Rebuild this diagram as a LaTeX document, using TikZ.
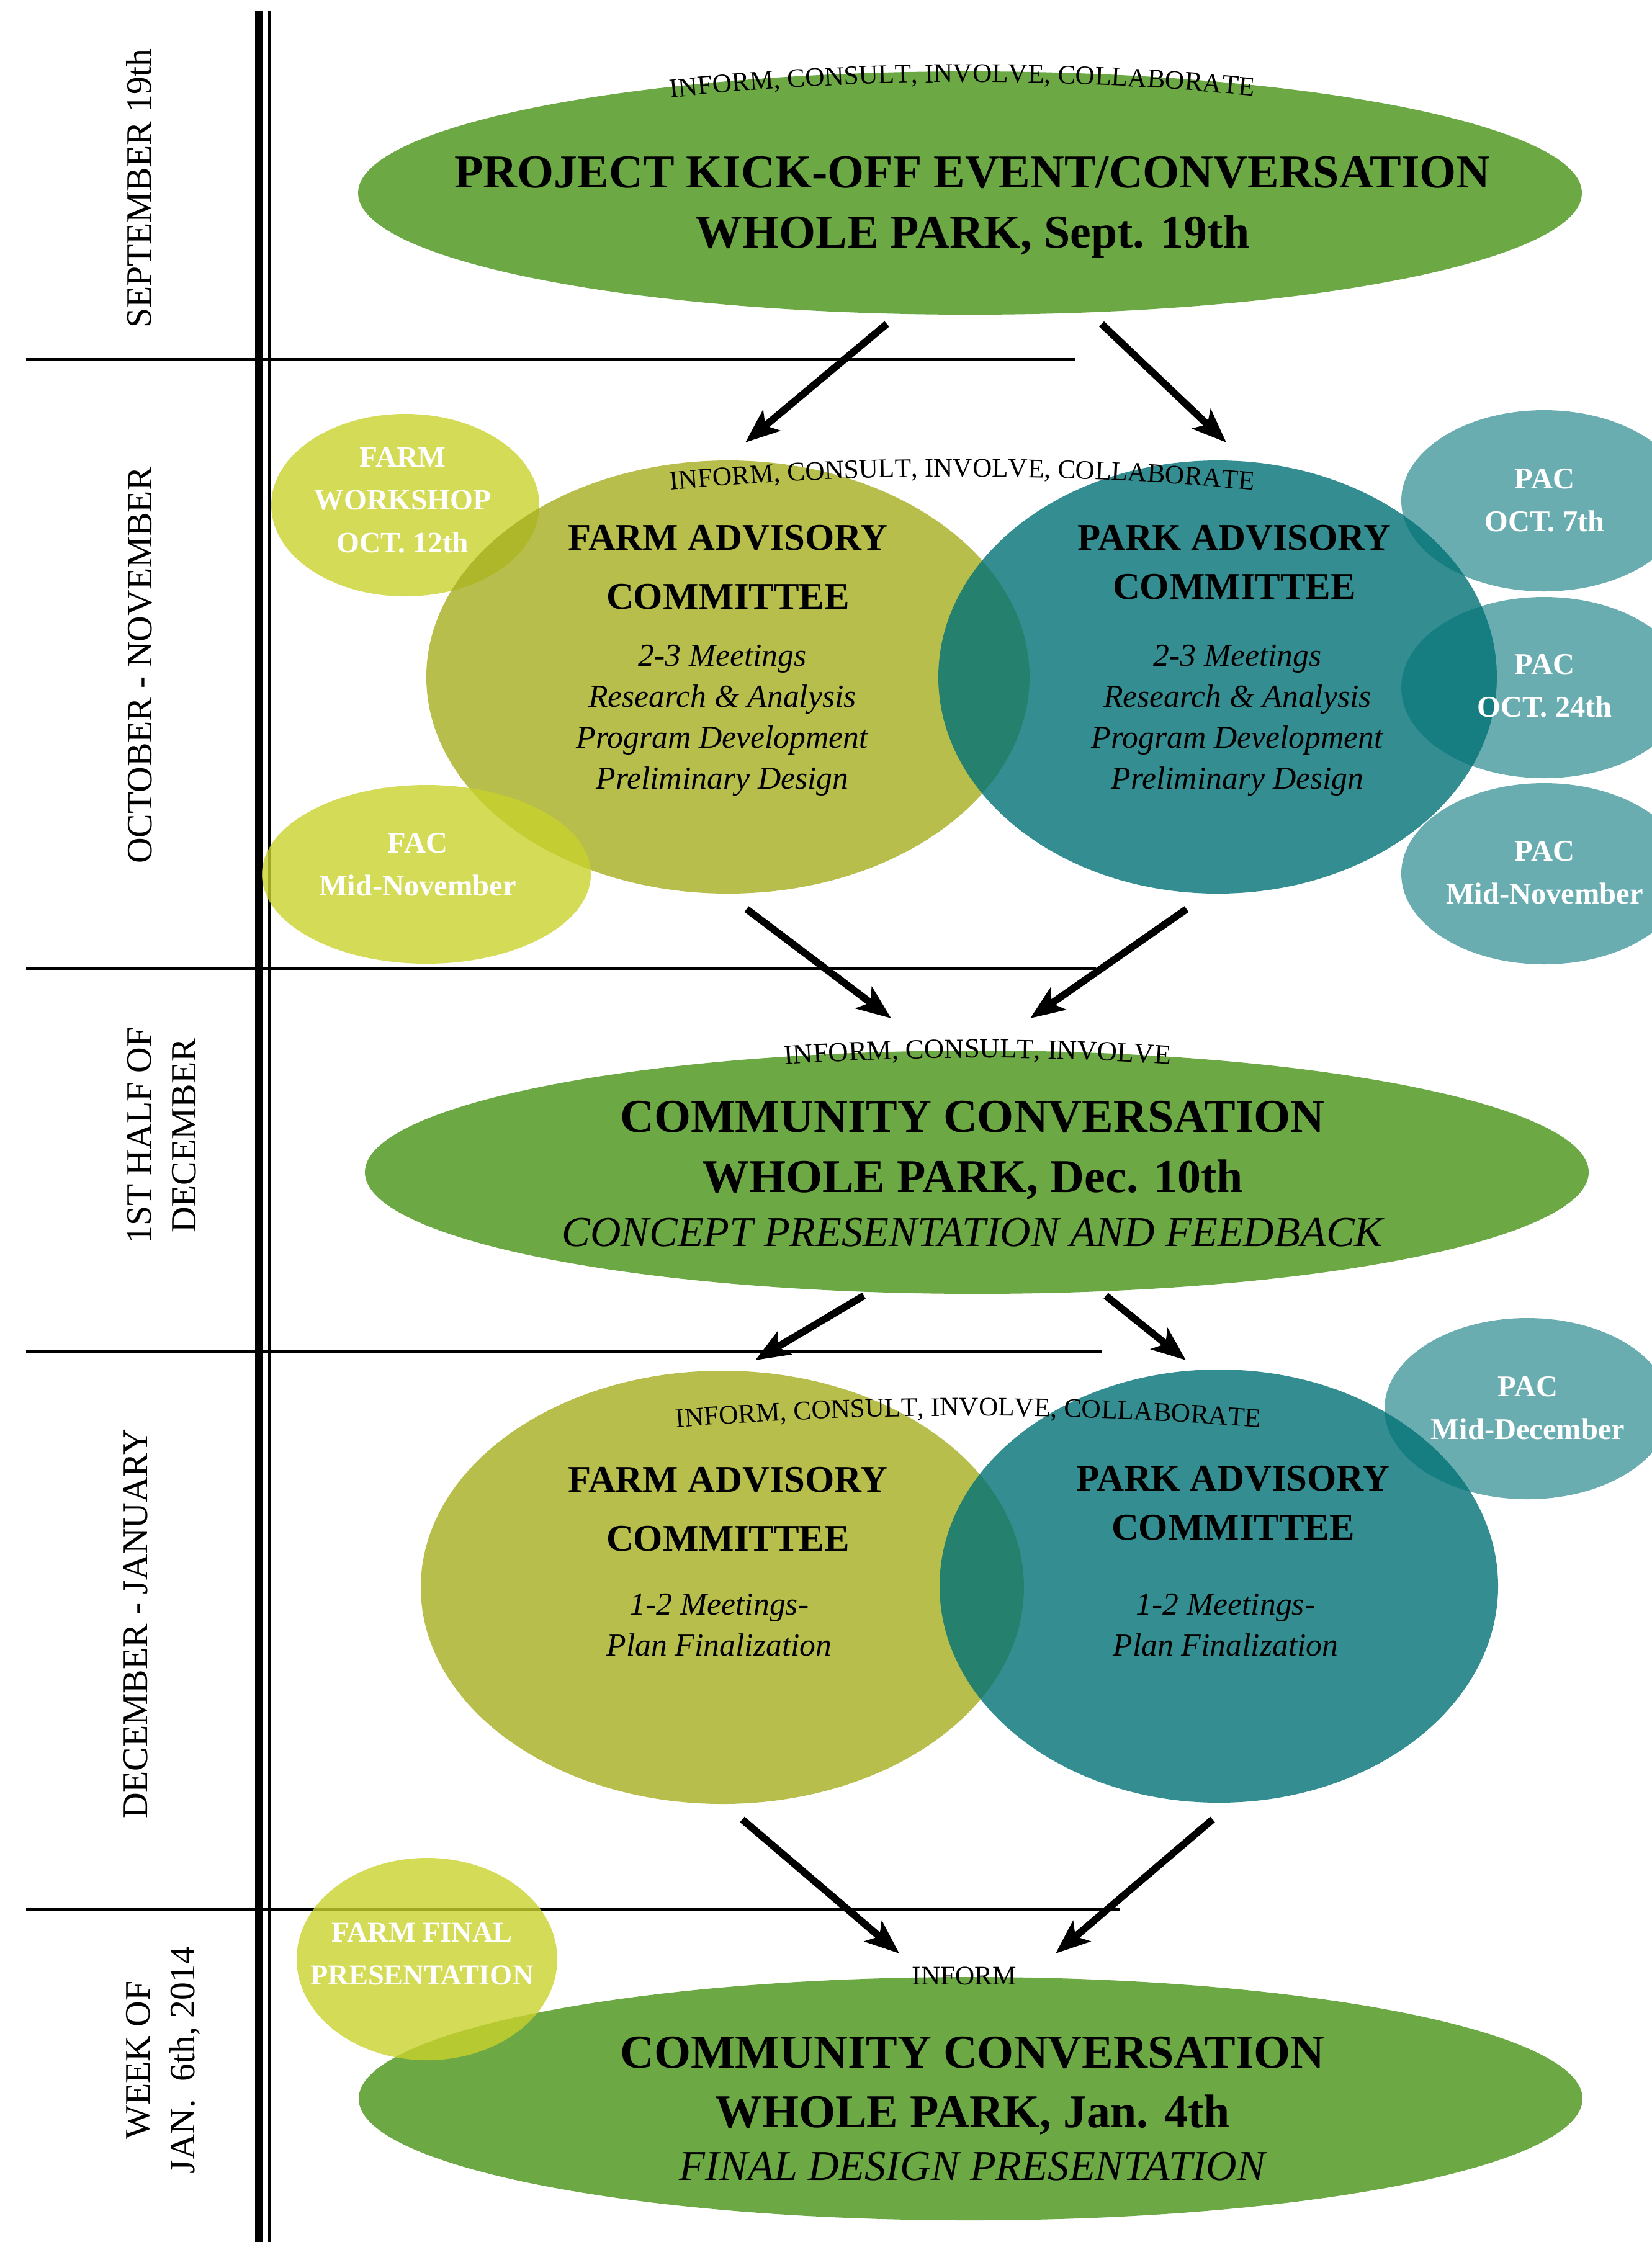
\documentclass[tikz,border=0pt]{standalone}
\usepackage{fontspec}
\setmainfont{Liberation Serif}
\usetikzlibrary{shapes.geometric, arrows.meta, decorations.text}

\definecolor{eventgreen}{RGB}{108,169,69}
\definecolor{farmolive}{RGB}{165,174,31}
\definecolor{parkteal}{RGB}{1,114,118}
\definecolor{limefill}{RGB}{201,210,44}
\definecolor{pacfill}{RGB}{69,153,158}

\tikzset{
  blob/.style={ellipse, draw=none, inner sep=0pt, fill opacity=0.8},
  eventblob/.style={blob, fill=eventgreen, fill opacity=1, minimum width=19.72cm, minimum height=3.92cm},
  farmblob/.style={blob, fill=farmolive, minimum width=9.72cm, minimum height=6.98cm},
  parkblob/.style={blob, fill=parkteal, minimum width=9cm, minimum height=6.98cm},
  limeblob/.style={blob, fill=limefill},
  pacblob/.style={blob, fill=pacfill, minimum width=4.6cm, minimum height=2.92cm},
  rule/.style={line width=0.05cm},
  flow/.style={line width=3.3pt, -{Stealth[length=5.5mm, width=4.3mm, inset=1.3mm]}},
  eventtxt/.style={align=center, inner sep=0pt, font=\fontsize{21.6}{27.5}\selectfont\bfseries},
  comtxt/.style={align=center, inner sep=0pt, font=\fontsize{17.3}{27}\selectfont\bfseries},
  meettxt/.style={align=center, inner sep=0pt, font=\fontsize{14.7}{18.8}\selectfont\itshape},
  datetxt/.style={align=center, inner sep=0pt, text=white, font=\fontsize{13.8}{19.6}\selectfont\bfseries},
  monthlbl/.style={rotate=90, align=center, inner sep=0pt, font=\fontsize{16.4}{20.5}\selectfont},
  arctxt/.style={decorate, decoration={text along path, text align=center, text={#1}}}
}

\begin{document}
\begin{tikzpicture}
\useasboundingbox (0,0) rectangle (26.62,-36.13);
\clip (0,0) rectangle (26.62,-36.13);

\draw[rule] (0.42,-5.79) -- (17.33,-5.79);
\draw[rule] (0.42,-15.60) -- (17.66,-15.60);
\draw[rule] (0.42,-21.78) -- (17.75,-21.78);
\draw[rule] (0.42,-30.76) -- (18.05,-30.76);
\draw[line width=0.12cm] (4.17,-0.18) -- (4.17,-36.13);
\draw[line width=0.04cm] (4.34,-0.18) -- (4.34,-36.13);

\node[monthlbl] (sep) at (2.24,-3.04) {SEPTEMBER 19th};
\node[monthlbl] (octnov) at (2.26,-10.72) {OCTOBER - NOVEMBER};
\node[monthlbl] (dechalf) at (2.61,-18.30) {1ST HALF OF\\DECEMBER};
\node[monthlbl] (decjan) at (2.19,-26.17) {DECEMBER - JANUARY};
\node[monthlbl] (janweek) at (2.63,-33.20) {WEEK OF\\JAN.\ \ 6th, 2014};

\node[eventblob] (kickoff) at (15.63,-3.11) {};
\node[eventblob] (convA) at (15.74,-18.89) {};
\node[eventblob] (convB) at (15.64,-33.82) {};

\node[limeblob, minimum width=4.32cm, minimum height=2.94cm] (workshop) at (6.53,-8.14) {};
\node[farmblob] (farmA) at (11.73,-10.91) {};
\node[limeblob, minimum width=5.30cm, minimum height=2.88cm] (facA) at (6.87,-14.09) {};
\node[pacblob] (pacA) at (24.88,-8.07) {};
\node[pacblob] (pacB) at (24.88,-11.08) {};
\node[pacblob] (pacC) at (24.88,-14.08) {};
\node[parkblob] (parkA) at (19.62,-10.91) {};

\node[farmblob] (farmB) at (11.64,-25.58) {};
\node[pacblob] (pacD) at (24.61,-22.70) {};
\node[parkblob] (parkB) at (19.64,-25.56) {};
\node[limeblob, minimum width=4.20cm, minimum height=3.26cm] (final) at (6.88,-31.57) {};

\node[eventtxt] (kickofftxt) at (15.67,-3.34) {PROJECT KICK-OFF EVENT/CONVERSATION\\WHOLE PARK, Sept. 19th};
\node[eventtxt] (convAtxt) at (15.67,-18.92) {COMMUNITY CONVERSATION\\WHOLE PARK, Dec. 10th\\[-2.6pt]{\fontsize{19.5}{25}\selectfont\mdseries\itshape CONCEPT PRESENTATION AND FEEDBACK}};
\node[eventtxt] (convBtxt) at (15.67,-33.98) {COMMUNITY CONVERSATION\\WHOLE PARK, Jan. 4th\\[-3.5pt]{\fontsize{19.5}{25}\selectfont\mdseries\itshape FINAL DESIGN PRESENTATION}};

\node[comtxt] (farmAtitle) at (11.73,-9.14) {FARM ADVISORY\\COMMITTEE};
\node[comtxt, font=\fontsize{17.3}{22.3}\selectfont\bfseries] (parkAtitle) at (19.89,-9.06) {PARK ADVISORY\\COMMITTEE};
\node[meettxt] (farmAmeet) at (11.64,-11.61) {2-3 Meetings\\Research \& Analysis\\Program Development\\Preliminary Design};
\node[meettxt] (parkAmeet) at (19.94,-11.61) {2-3 Meetings\\Research \& Analysis\\Program Development\\Preliminary Design};
\node[comtxt] (farmBtitle) at (11.73,-24.32) {FARM ADVISORY\\COMMITTEE};
\node[comtxt, font=\fontsize{17.3}{22.3}\selectfont\bfseries] (parkBtitle) at (19.87,-24.22) {PARK ADVISORY\\COMMITTEE};
\node[meettxt] (farmBmeet) at (11.59,-26.19) {1-2 Meetings-\\Plan Finalization};
\node[meettxt] (parkBmeet) at (19.75,-26.19) {1-2 Meetings-\\Plan Finalization};

\node[datetxt, font=\fontsize{13.5}{19.6}\selectfont\bfseries] (workshoptxt) at (6.49,-8.06) {FARM\\WORKSHOP\\OCT. 12th};
\node[datetxt] (factxt) at (6.73,-13.93) {FAC\\Mid-November};
\node[datetxt] (pacAtxt) at (24.89,-8.06) {PAC\\OCT. 7th};
\node[datetxt] (pacBtxt) at (24.89,-11.05) {PAC\\OCT. 24th};
\node[datetxt] (pacCtxt) at (24.89,-14.06) {PAC\\Mid-November};
\node[datetxt] (pacDtxt) at (24.62,-22.69) {PAC\\Mid-December};
\node[datetxt, font=\fontsize{13.2}{19.6}\selectfont\bfseries] (finaltxt) at (6.80,-31.49) {FARM FINAL\\PRESENTATION};

\path[arctxt={|\fontsize{12.3}{15}\selectfont|INFORM, CONSULT, INVOLVE, COLLABORATE}] (10.35,-1.63) arc[start angle=122.4, end angle=59.4, x radius=9.86cm, y radius=1.96cm];
\path[arctxt={|\fontsize{12.3}{15}\selectfont|INFORM, CONSULT, INVOLVE, COLLABORATE}] (10.60,-7.92) .. controls (13.70,-7.60) and (17.30,-7.60) .. (20.40,-7.92);
\path[arctxt={|\fontsize{12.7}{15}\selectfont|INFORM, CONSULT, INVOLVE}] (12.20,-17.19) .. controls (14.50,-17.00) and (17.00,-17.00) .. (19.30,-17.19);
\path[arctxt={|\fontsize{12.3}{15}\selectfont|INFORM, CONSULT, INVOLVE, COLLABORATE}] (10.70,-23.02) .. controls (13.80,-22.75) and (17.40,-22.75) .. (20.50,-23.02);
\node[font=\fontsize{12.3}{15}\selectfont] (informtxt) at (15.54,-31.84) {INFORM};

\coordinate (a1s) at (14.29,-5.22);
\coordinate (a1e) at (12.01,-7.13);
\coordinate (a2s) at (17.75,-5.22);
\coordinate (a2e) at (19.76,-7.13);
\coordinate (a3s) at (12.03,-14.65);
\coordinate (a3e) at (14.36,-16.41);
\coordinate (a4s) at (19.12,-14.65);
\coordinate (a4e) at (16.60,-16.41);
\coordinate (a5s) at (13.92,-20.88);
\coordinate (a5e) at (12.17,-21.92);
\coordinate (a6s) at (17.82,-20.88);
\coordinate (a6e) at (19.11,-21.92);
\coordinate (a7s) at (11.96,-29.32);
\coordinate (a7e) at (14.49,-31.48);
\coordinate (a8s) at (19.54,-29.32);
\coordinate (a8e) at (17.01,-31.48);
\draw[flow] (a1s) -- (a1e);
\draw[flow] (a2s) -- (a2e);
\draw[flow] (a3s) -- (a3e);
\draw[flow] (a4s) -- (a4e);
\draw[flow] (a5s) -- (a5e);
\draw[flow] (a6s) -- (a6e);
\draw[flow] (a7s) -- (a7e);
\draw[flow] (a8s) -- (a8e);
\end{tikzpicture}
\end{document}
